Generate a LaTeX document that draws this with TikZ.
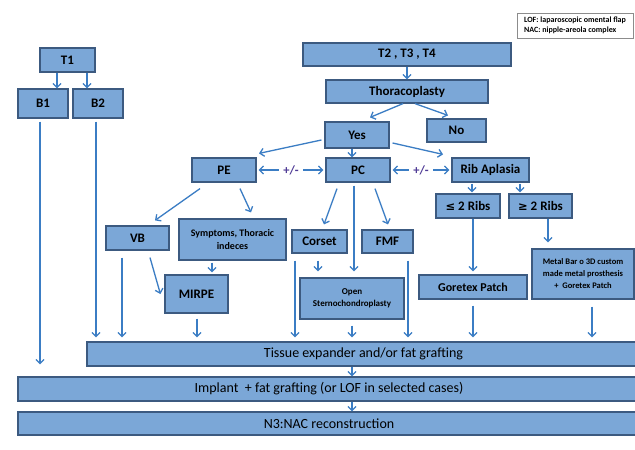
\documentclass[tikz,border=0pt]{standalone}
\usepackage{fontspec}
\setmainfont{Carlito}
\newfontfamily\symfont{DejaVu Sans}
\usetikzlibrary{arrows.meta}
\definecolor{boxfill}{RGB}{123,167,215}
\definecolor{boxline}{RGB}{60,90,128}
\definecolor{arrcol}{RGB}{59,125,196}
\definecolor{pmcol}{RGB}{80,60,150}
\tikzset{
  box/.style={draw=boxline, fill=boxfill, line width=1.2pt, inner sep=1pt, align=center, font=\bfseries\fontsize{13}{15}\selectfont},
  smallbox/.style={box, font=\bfseries\fontsize{9}{12.5}\selectfont},
  bar/.style={box, font=\fontsize{14}{16}\selectfont},
  arr/.style={draw=arrcol, line width=1.3pt, -{Straight Barb[length=4pt,width=8pt]}},
  darr/.style={draw=arrcol, line width=1.3pt, {Straight Barb[length=4pt,width=8pt]}-{Straight Barb[length=4pt,width=8pt]}},
  pm/.style={fill=white, text=pmcol, inner xsep=4pt, font=\bfseries\fontsize{12.5}{13}\selectfont},
  legend/.style={draw=black!45, fill=white, line width=0.6pt, align=left, inner sep=2pt, font=\bfseries\fontsize{8}{9.5}\selectfont}
}
\begin{document}
\begin{tikzpicture}[x=1pt,y=-1pt]
\useasboundingbox (0,0) rectangle (635,450);
\clip (0,0) rectangle (635,450);
\fill[white] (0,0) rectangle (635,450);
% nodes
\node[box, minimum width=55pt, minimum height=24pt] (T1) at (67.5,60) {T1};
\node[box, minimum width=50pt, minimum height=29pt] (B1) at (43,103.5) {B1};
\node[box, minimum width=50pt, minimum height=29pt] (B2) at (98,103.5) {B2};
\node[box, minimum width=208pt, minimum height=23pt] (T234) at (407,54.5) {T2 , T3 , T4};
\node[box, minimum width=162pt, minimum height=23pt] (Thor) at (407,91.5) {Thoracoplasty};
\node[box, minimum width=64pt, minimum height=26pt] (Yes) at (357,135) {Yes};
\node[box, minimum width=59pt, minimum height=23pt] (No) at (456.5,130.5) {No};
\node[box, minimum width=64pt, minimum height=24pt] (PE) at (224,170) {PE};
\node[box, minimum width=64pt, minimum height=24pt] (PC) at (358,170) {PC};
\node[box, minimum width=77pt, minimum height=24pt] (Rib) at (490.5,170) {Rib Aplasia};
\node[box, minimum width=64pt, minimum height=24pt] (le2) at (468,206) {{\symfont\fontsize{11.5}{12}\selectfont ≤} 2 Ribs};
\node[box, minimum width=63pt, minimum height=24pt] (ge2) at (540.5,206) {{\symfont\fontsize{11.5}{12}\selectfont ≥} 2 Ribs};
\node[box, minimum width=63pt, minimum height=24pt] (VB) at (137.5,238) {VB};
\node[smallbox, font=\bfseries\fontsize{10}{13.5}\selectfont, minimum width=107pt, minimum height=41pt] (Sym) at (232.5,239.5) {Symptoms, Thoracic\\indeces};
\node[box, minimum width=63pt, minimum height=38pt] (MIRPE) at (196.5,294) {MIRPE};
\node[box, minimum width=55pt, minimum height=23pt] (Corset) at (319.5,241.5) {Corset};
\node[box, minimum width=51pt, minimum height=23pt] (FMF) at (387.5,241.5) {FMF};
\node[smallbox, minimum width=104pt, minimum height=41pt] (Open) at (352,298.5) {Open\\Sternochondroplasty};
\node[box, font=\bfseries\fontsize{12}{14}\selectfont, minimum width=108pt, minimum height=24pt] (Gore) at (473,287) {Goretex Patch};
\node[smallbox, font=\bfseries\fontsize{8.5}{12}\selectfont, minimum width=102pt, minimum height=50pt] (Metal) at (583,274) {Metal Bar o 3D custom\\made metal prosthesis\\+\ \ Goretex Patch};
\node[bar, minimum width=553pt, minimum height=24pt] (Tissue) at (363.5,354) {Tissue expander and/or fat grafting};
\node[bar, minimum width=622pt, minimum height=24pt] (Implant) at (329,389) {Implant\ \ + fat grafting (or LOF in selected cases)};
\node[bar, minimum width=622pt, minimum height=23pt] (N3) at (329,423.5) {N3:NAC reconstruction};
\node[legend, minimum width=116pt, minimum height=25pt] (Leg) at (575,25.5) {LOF: laparoscopic omental flap\\NAC: nipple-areola complex};
% connectors
\draw[arr] ([xshift=-10.5pt]T1.south) -- ([xshift=-10.5pt]T1.south |- B1.north);
\draw[arr] ([xshift=19.5pt]T1.south) -- ([xshift=19.5pt]T1.south |- B2.north);
\draw[arr] ([xshift=-3pt,yshift=-3pt]B1.south) -- ([xshift=-3pt,yshift=12pt]B1.south |- Implant.north);
\draw[arr] ([xshift=-2pt,yshift=-3pt]B2.south) -- ([xshift=-2pt,yshift=4pt]B2.south |- Tissue.north);
\draw[arr] (T234.south) -- (Thor.north);
\draw[arr] ([xshift=-4pt]Thor.south) -- ([xshift=13pt,yshift=4pt]Yes.north);
\draw[arr] ([xshift=8pt]Thor.south) -- ([xshift=-8.5pt,yshift=3pt]No.north);
\draw[arr] ([xshift=-3pt,yshift=-5pt]Yes.west) -- ([xshift=35pt,yshift=4pt]PE.north);
\draw[arr] ([xshift=-5pt]Yes.south) -- ([xshift=-6pt]PC.north);
\draw[arr] ([xshift=3pt,yshift=-8pt]Yes.east) -- ([xshift=-47.5pt,yshift=3pt]Rib.north);
\draw[darr] ([xshift=2pt]PE.east) -- ([xshift=-2pt]PC.west) node[pm, midway] {+/-};
\draw[darr] ([xshift=2pt]PC.east) -- ([xshift=-2pt]Rib.west) node[pm, midway] {+/-};
\draw[arr] ([xshift=-24pt,yshift=-6pt]PE.south) -- ([xshift=17.5pt,yshift=5pt]VB.north);
\draw[arr] ([xshift=16pt,yshift=-6pt]PE.south) -- ([xshift=18.5pt,yshift=6pt]Sym.north);
\draw[arr] ([xshift=-20.5pt,yshift=-2pt]Sym.south) -- ([xshift=-20.5pt,yshift=2pt]Sym.south |- MIRPE.north);
\draw[arr] ([xshift=12.5pt,yshift=-7pt]VB.south) -- ([xshift=-4pt]MIRPE.west);
\draw[arr] ([xshift=-15.5pt,yshift=-7pt]VB.south) -- ([xshift=-15.5pt,yshift=4pt]VB.south |- Tissue.north);
\draw[arr] ([xshift=0.5pt,yshift=-5pt]MIRPE.south) -- ([xshift=0.5pt,yshift=4pt]MIRPE.south |- Tissue.north);
\draw[arr] ([xshift=-21pt,yshift=-6pt]PC.south) -- ([xshift=4.5pt,yshift=5pt]Corset.north);
\draw[arr] ([xshift=-4pt,yshift=-3pt]PC.south) -- ([xshift=-4pt,yshift=6pt]PC.south |- Open.north);
\draw[arr] ([xshift=17pt,yshift=-6pt]PC.south) -- ([xshift=0.5pt,yshift=5pt]FMF.north);
\draw[arr] ([xshift=-1.5pt,yshift=-7pt]Corset.south) -- ([xshift=-1.5pt,yshift=6pt]Corset.south |- Open.north);
\draw[arr] ([xshift=-24.5pt,yshift=-7pt]Corset.south) -- ([xshift=-24.5pt,yshift=4pt]Corset.south |- Tissue.north);
\draw[arr] ([xshift=20.5pt,yshift=-7pt]FMF.south) -- ([xshift=20.5pt,yshift=4pt]FMF.south |- Tissue.north);
\draw[arr] ([yshift=-6pt]Open.south) -- ([yshift=4pt]Open.south |- Tissue.north);
\draw[arr] ([xshift=-18.5pt,yshift=-1pt]Rib.south) -- ([xshift=-18.5pt,yshift=1pt]Rib.south |- le2.north);
\draw[arr] ([xshift=29.5pt,yshift=-1pt]Rib.south) -- ([xshift=29.5pt,yshift=1pt]Rib.south |- ge2.north);
\draw[arr] ([xshift=5pt]le2.south) -- ([xshift=5pt,yshift=3pt]le2.south |- Gore.north);
\draw[arr] ([xshift=7.5pt]ge2.south) -- ([xshift=7.5pt,yshift=6pt]ge2.south |- Metal.north);
\draw[arr] ([yshift=-6pt]Gore.south) -- ([yshift=4pt]Gore.south |- Tissue.north);
\draw[arr] ([xshift=9pt,yshift=-7pt]Metal.south) -- ([xshift=9pt,yshift=4pt]Metal.south |- Tissue.north);
\draw[arr] ([xshift=-11.5pt]Tissue.south) -- ([xshift=-11.5pt]Tissue.south |- Implant.north);
\draw[arr] ([xshift=23pt]Implant.south) -- ([xshift=23pt]Implant.south |- N3.north);
\end{tikzpicture}
\end{document}
